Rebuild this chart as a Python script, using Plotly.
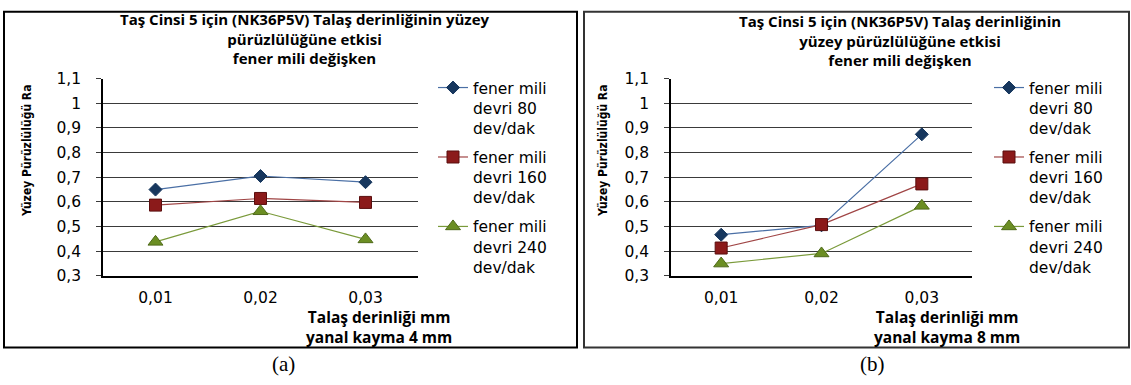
import plotly.graph_objects as go

categories = ["0,01", "0,02", "0,03"]
series_names = ["fener mili<br>devri 80<br>dev/dak",
                "fener mili<br>devri 160<br>dev/dak",
                "fener mili<br>devri 240<br>dev/dak"]
left_80 = [0.650, 0.705, 0.680]
left_160 = [0.587, 0.614, 0.598]
left_240 = [0.438, 0.562, 0.448]
right_80 = [0.467, 0.505, 0.874]
right_160 = [0.413, 0.508, 0.673]
right_240 = [0.350, 0.391, 0.584]
y_ticks = [0.3, 0.4, 0.5, 0.6, 0.7, 0.8, 0.9, 1.0, 1.1]
title_text = "Taş Cinsi 5 için (NK36P5V) Talaş derinliğinin yüzey<br>pürüzlülüğüne etkisi<br>fener mili değişken"
title_text_b = "Taş Cinsi 5 için (NK36P5V) Talaş derinliğinin<br>yüzey pürüzlülüğüne etkisi<br>fener mili değişken"
ytitle = "Yüzey Pürüzlülüğü Ra"
xtitle_a = "Talaş derinliği mm<br>yanal kayma 4 mm"
xtitle_b = "Talaş derinliği mm<br>yanal kayma 8 mm"

W, H = 1131, 385
def px(x):
    return x / W
def py(y):
    return 1 - y / H

def bold_lines(t):
    return "<b>" + t.replace("<br>", "</b><br><b>") + "</b>"

styles = [
    dict(symbol="diamond", size=10, color="#17375E", line_color="#17375E", lc="#4A6FA5"),
    dict(symbol="square", size=12, color="#8B1A1A", line_color="#5A0E0E", lc="#A04545"),
    dict(symbol="triangle-up", size=13, color="#6B8E23", line_color="#4F6A1A", lc="#7A9A3A"),
]

fig = go.Figure()
for panel, (data, xa, ya, leg) in enumerate([
        ((left_80, left_160, left_240), "x", "y", "legend"),
        ((right_80, right_160, right_240), "x2", "y2", "legend2")]):
    for i, vals in enumerate(data):
        s = styles[i]
        fig.add_trace(go.Scatter(
            x=categories, y=vals, xaxis=xa, yaxis=ya, mode="lines+markers",
            name=series_names[i], legend=leg, legendgroup=f"{panel}{i}",
            line=dict(color=s["lc"], width=1.2),
            marker=dict(symbol=s["symbol"], size=s["size"], color=s["color"],
                        line=dict(color=s["line_color"], width=1)),
        ))

tick_font = dict(family="DejaVu Sans", size=15.5, color="black")
axis_common_y = dict(range=[0.3, 1.1], tickvals=y_ticks, showgrid=True,
                     gridcolor="#3a3a3a", gridwidth=1, showline=True, linecolor="black",
                     linewidth=1.5, ticks="outside", ticklen=5, tickcolor="#3a3a3a",
                     tickfont=tick_font, zeroline=False, ticklabelstandoff=12)
axis_common_x = dict(type="category", range=[-0.5, 2.5], showgrid=False, showline=True,
                     linecolor="black", linewidth=1.5, ticks="",
                     tickfont=tick_font, ticklabelstandoff=7)

ydom = [py(280), py(73)]
legend_font = dict(family="DejaVu Sans", size=15.5, color="black")
fig.update_layout(
    width=W, height=H, margin=dict(l=0, r=0, t=0, b=0),
    paper_bgcolor="white", plot_bgcolor="white", separators=", ",
    xaxis=dict(domain=[px(103), px(418)], anchor="y", **axis_common_x),
    yaxis=dict(domain=ydom, anchor="x", **axis_common_y),
    xaxis2=dict(domain=[px(671), px(972)], anchor="y2", **axis_common_x),
    yaxis2=dict(domain=ydom, anchor="x2", **axis_common_y),
    legend=dict(x=px(433), y=py(65), xanchor="left", yanchor="top", valign="top",
                font=legend_font, tracegroupgap=6, bgcolor="rgba(0,0,0,0)"),
    legend2=dict(x=px(989), y=py(65), xanchor="left", yanchor="top", valign="top",
                 font=legend_font, tracegroupgap=6, bgcolor="rgba(0,0,0,0)"),
    showlegend=True,
)

title_font = dict(family="Open Sans", size=15, color="black")
xt_font = dict(family="Open Sans", size=15.5, color="black")
ytitle_font = dict(family="DejaVu Sans Condensed", size=12, color="black")
ann = [
    dict(text=bold_lines(title_text), x=px(305), y=py(31), xanchor="center", yanchor="middle",
         font=title_font),
    dict(text=bold_lines(title_text_b), x=px(900), y=py(33), xanchor="center", yanchor="middle",
         font=title_font),
    dict(text="<b>" + ytitle + "</b>", x=px(27), y=py(149), textangle=-90,
         xanchor="center", yanchor="middle", font=ytitle_font),
    dict(text="<b>" + ytitle + "</b>", x=px(603), y=py(149), textangle=-90,
         xanchor="center", yanchor="middle", font=ytitle_font),
    dict(text=bold_lines(xtitle_a), x=px(379), y=py(334), xanchor="center", yanchor="middle",
         font=xt_font),
    dict(text=bold_lines(xtitle_b), x=px(947), y=py(334), xanchor="center", yanchor="middle",
         font=xt_font),
    dict(text="(a)", x=px(283), y=py(372), xanchor="center", yanchor="middle",
         font=dict(family="Liberation Serif", size=21, color="black")),
    dict(text="(b)", x=px(872), y=py(372), xanchor="center", yanchor="middle",
         font=dict(family="Liberation Serif", size=21, color="black")),
]
for a in ann:
    a.update(xref="paper", yref="paper", showarrow=False)
fig.update_layout(annotations=ann)

fig.update_layout(shapes=[
    dict(type="rect", xref="paper", yref="paper", x0=px(4), x1=px(577), y0=py(355), y1=py(3),
         line=dict(color="black", width=2)),
    dict(type="rect", xref="paper", yref="paper", x0=px(584), x1=px(1129), y0=py(355), y1=py(3),
         line=dict(color="#333333", width=2)),
])

fig.write_html("out.html", config={"displayModeBar": False},
               post_script="document.body.style.margin='0';document.body.style.overflow='hidden';")
